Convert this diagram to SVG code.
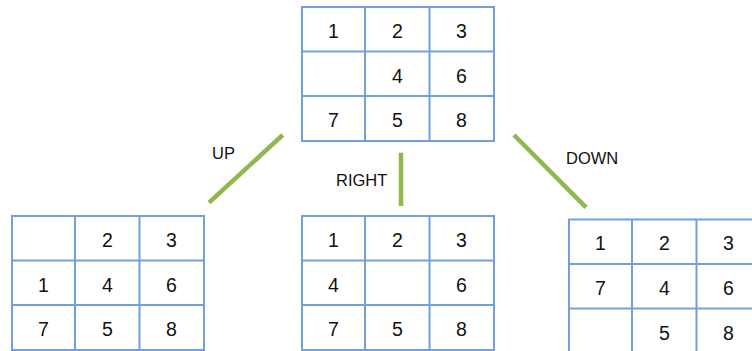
<svg xmlns="http://www.w3.org/2000/svg" width="752" height="351" viewBox="0 0 752 351">
<style>
.cell{fill:#ffffff;stroke:#739fe0;stroke-width:2}
.num{font-family:"Liberation Sans",Arial,sans-serif;font-size:19.5px;fill:#111;text-anchor:middle}
.lbl{font-family:"Liberation Sans",Arial,sans-serif;font-size:16.5px;fill:#111}
.edge{stroke:#8fb84e;stroke-width:4.5;stroke-linecap:butt;fill:none}
</style>
<defs>
<g id="grid">
<rect class="cell" x="0" y="0" width="192" height="134"/>
<line class="cell" x1="63" y1="0" x2="63" y2="134"/>
<line class="cell" x1="127.5" y1="0" x2="127.5" y2="134"/>
<line class="cell" x1="0" y1="44.5" x2="192" y2="44.5"/>
<line class="cell" x1="0" y1="89" x2="192" y2="89"/>
</g>
</defs>
<g id="connectors">
<line class="edge" x1="282.7" y1="135" x2="209" y2="202.7"/>
<line class="edge" x1="401" y1="152.7" x2="401" y2="206"/>
<line class="edge" x1="514" y1="135" x2="586" y2="207.3"/>
<text class="lbl" x="212" y="158.5">UP</text>
<text class="lbl" x="336" y="186">RIGHT</text>
<text class="lbl" x="566" y="163.5">DOWN</text>
</g>
<g id="node-top" transform="translate(302,7)">
<use href="#grid"/>
<text class="num" x="31.5" y="30.5">1</text>
<text class="num" x="95.5" y="30.5">2</text>
<text class="num" x="159.5" y="30.5">3</text>
<text class="num" x="95.5" y="75.5">4</text>
<text class="num" x="159.5" y="75.5">6</text>
<text class="num" x="31.5" y="120">7</text>
<text class="num" x="95.5" y="120">5</text>
<text class="num" x="159.5" y="120">8</text>
</g>
<g id="node-up" transform="translate(12,216)">
<use href="#grid"/>
<text class="num" x="95.5" y="30.5">2</text>
<text class="num" x="159.5" y="30.5">3</text>
<text class="num" x="31.5" y="75.5">1</text>
<text class="num" x="95.5" y="75.5">4</text>
<text class="num" x="159.5" y="75.5">6</text>
<text class="num" x="31.5" y="120">7</text>
<text class="num" x="95.5" y="120">5</text>
<text class="num" x="159.5" y="120">8</text>
</g>
<g id="node-right" transform="translate(302,216)">
<use href="#grid"/>
<text class="num" x="31.5" y="30.5">1</text>
<text class="num" x="95.5" y="30.5">2</text>
<text class="num" x="159.5" y="30.5">3</text>
<text class="num" x="31.5" y="75.5">4</text>
<text class="num" x="159.5" y="75.5">6</text>
<text class="num" x="31.5" y="120">7</text>
<text class="num" x="95.5" y="120">5</text>
<text class="num" x="159.5" y="120">8</text>
</g>
<g id="node-down" transform="translate(569,219.5)">
<use href="#grid"/>
<text class="num" x="31.5" y="30.5">1</text>
<text class="num" x="95.5" y="30.5">2</text>
<text class="num" x="159.5" y="30.5">3</text>
<text class="num" x="31.5" y="75.5">7</text>
<text class="num" x="95.5" y="75.5">4</text>
<text class="num" x="159.5" y="75.5">6</text>
<text class="num" x="95.5" y="120">5</text>
<text class="num" x="159.5" y="120">8</text>
</g>
</svg>
